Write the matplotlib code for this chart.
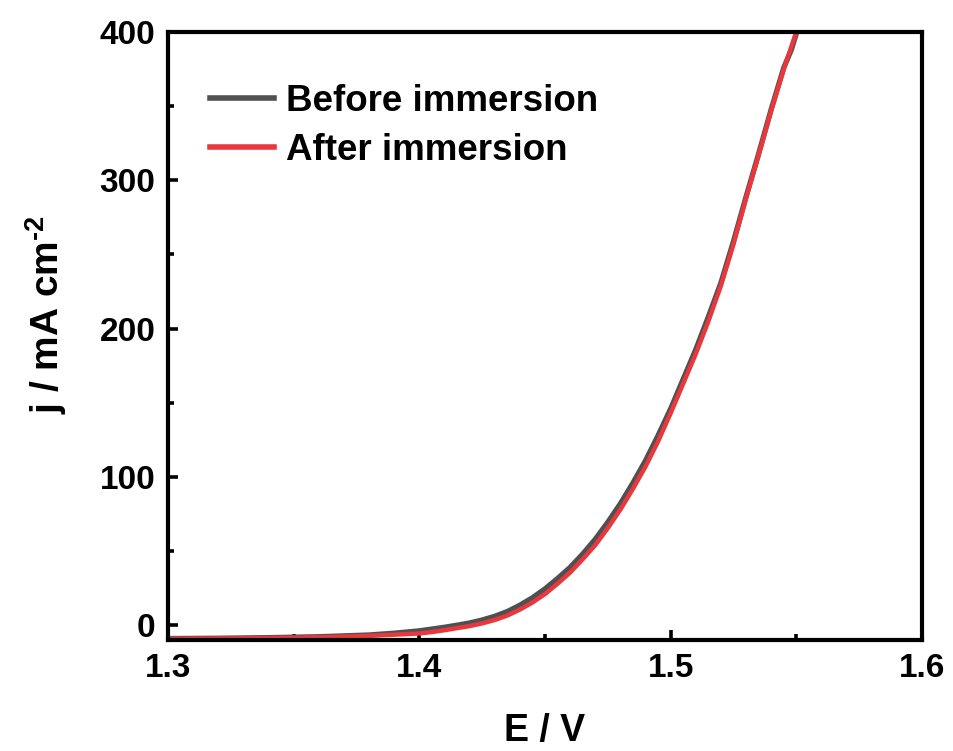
import numpy as np
import matplotlib
matplotlib.use("Agg")
import matplotlib.pyplot as plt
from matplotlib.ticker import MultipleLocator, FormatStrFormatter

# LSV polarization curves, before / after immersion
E_before = [1.300, 1.320, 1.340, 1.360, 1.380, 1.390, 1.400, 1.405, 1.410, 1.415,
            1.420, 1.425, 1.430, 1.435, 1.440, 1.445, 1.450, 1.455, 1.460, 1.465,
            1.470, 1.475, 1.480, 1.485, 1.490, 1.495, 1.500, 1.505, 1.510, 1.515,
            1.520, 1.525, 1.530, 1.535, 1.540, 1.545, 1.548, 1.552]
j_before = [-9.0, -8.8, -8.4, -7.8, -6.6, -5.4, -3.8, -2.6, -1.4, 0.0,
            1.5, 3.5, 6.0, 9.2, 13.5, 18.5, 24.5, 31.5, 39, 48,
            58, 69.5, 82, 96, 111, 128, 146, 166, 186, 208,
            231, 259, 289, 318, 348, 376, 388, 410]

E_after = E_before
j_after = [-9.2, -9.0, -8.7, -8.2, -7.2, -6.4, -5.6, -4.6, -3.4, -2.0,
           -0.6, 1.2, 3.5, 6.5, 10.5, 15.3, 21, 28, 35.5, 44.5,
           54, 65.5, 78, 92, 107, 124, 143, 163, 183, 205,
           229, 257, 288, 317, 347, 375, 390, 410]

plt.rcParams['font.family'] = ['Liberation Sans', 'DejaVu Sans']
plt.rcParams['font.weight'] = 'bold'
plt.rcParams['mathtext.fontset'] = 'custom'
plt.rcParams['mathtext.rm'] = 'Liberation Sans:bold'
plt.rcParams['mathtext.bf'] = 'Liberation Sans:bold'

fig = plt.figure(figsize=(9.54, 7.51), dpi=100)
ax = fig.add_axes([0.1761, 0.1478, 0.7904, 0.8096])

ax.plot(E_before, j_before, color='#505050', lw=3.8, label='Before immersion')
ax.plot(E_after, j_after, color='#e8383d', lw=3.2, label='After immersion')

ax.set_xlim(1.3, 1.6)
ax.set_ylim(-10, 400)
ax.xaxis.set_major_locator(MultipleLocator(0.1))
ax.xaxis.set_minor_locator(MultipleLocator(0.05))
ax.yaxis.set_major_locator(MultipleLocator(100))
ax.yaxis.set_minor_locator(MultipleLocator(50))
ax.xaxis.set_major_formatter(FormatStrFormatter('%.1f'))

for s in ax.spines.values():
    s.set_linewidth(3.0)
ax.tick_params(which='major', direction='in', length=7, width=2.6,
               labelsize=24, pad=9)
ax.tick_params(which='minor', direction='in', length=4, width=2.6)
ax.tick_params(axis='y', which='both', left=True, right=False)
ax.tick_params(axis='x', which='both', top=False)

ax.set_xlabel('E / V', fontsize=27, fontweight='bold', labelpad=21)
ax.set_ylabel('j / mA cm$^{\\text{-2}}$', fontsize=28, fontweight='bold')
ax.yaxis.set_label_coords(-0.131, 0.535)

leg = ax.legend(loc='upper left', bbox_to_anchor=(0.0557, 0.915), frameon=False,
                fontsize=26.5, handlelength=1.75, handletextpad=0.32,
                labelspacing=0.38, borderpad=0, borderaxespad=0)
for h in leg.get_lines():
    h.set_linewidth(4)

fig.savefig('out.png', dpi=100)
